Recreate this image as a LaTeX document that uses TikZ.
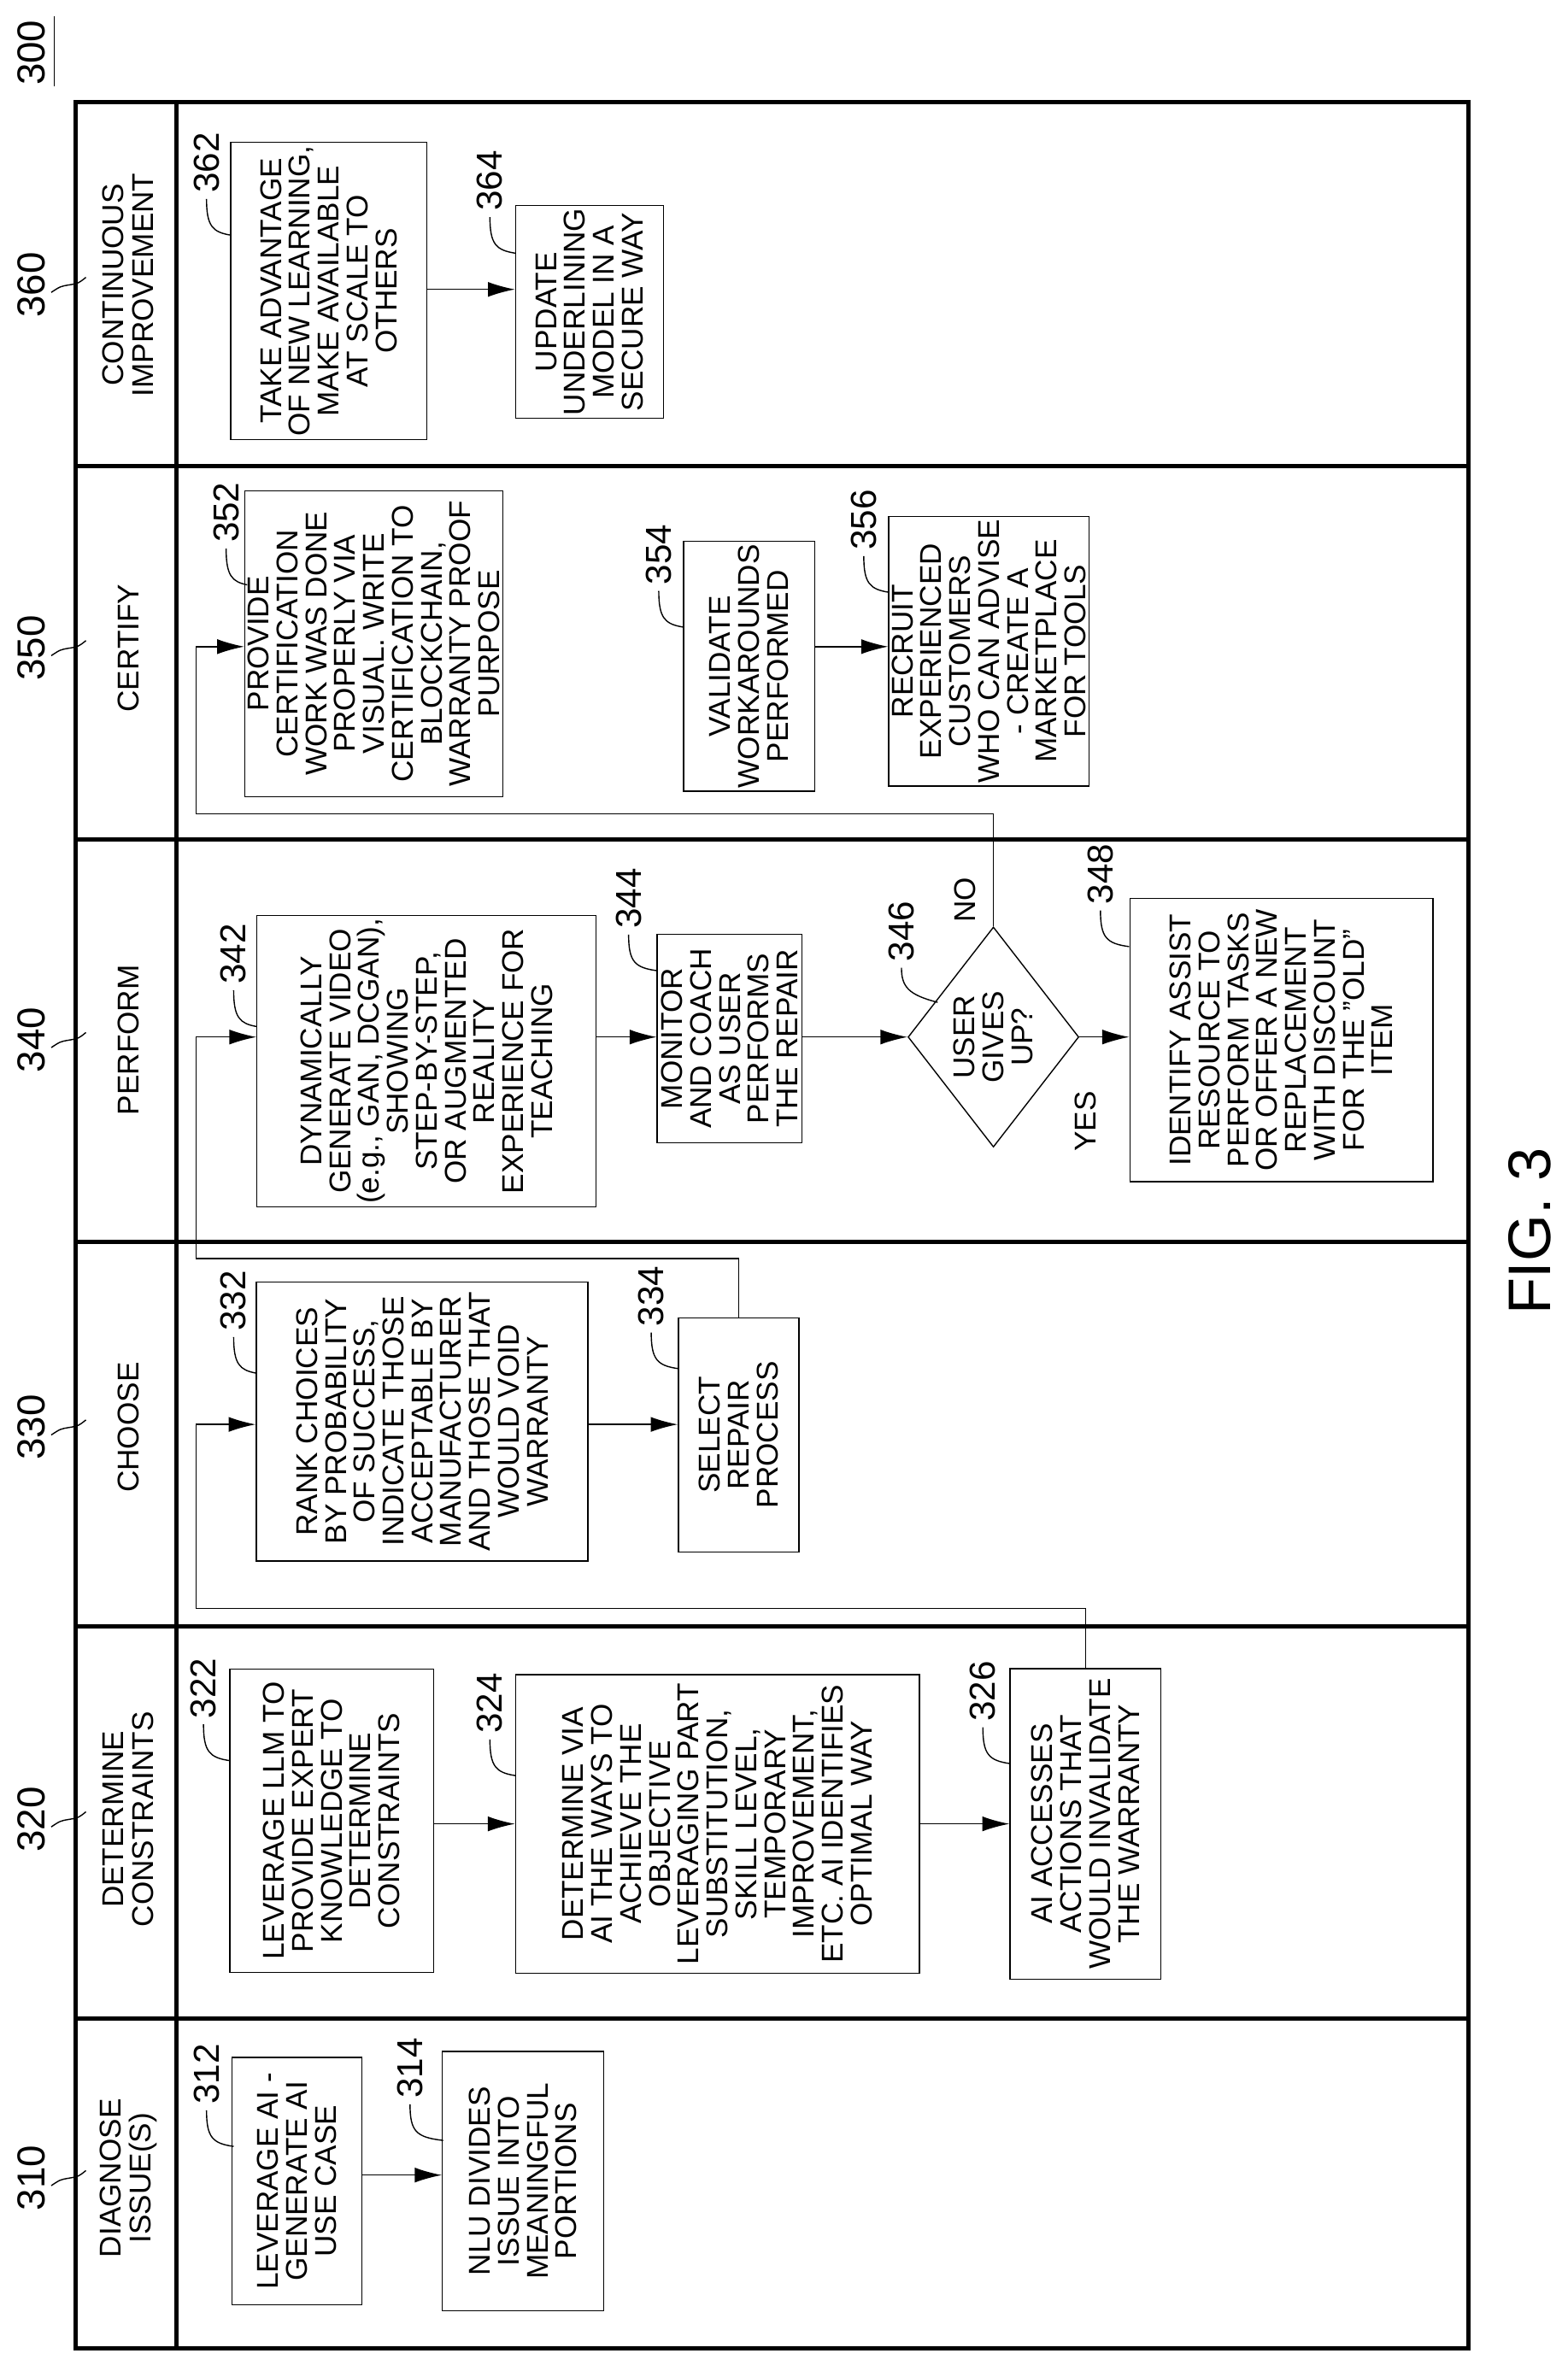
\documentclass[tikz,border=0pt]{standalone}
\usepackage{fontspec}
\setmainfont{Liberation Sans}
\usetikzlibrary{shapes.geometric,arrows.meta}

\def\px{0.1764mm}
\newcommand{\boxfont}{\fontsize{10}{9.6}\selectfont}
\newcommand{\refnum}[4]{%
  \node[numlbl] (n#1) at (#2,#3) {#1};
  \draw[thin] (#2,{#3+24}) .. controls (#2,{#3+42}) and ({#2+4},{#3+46}) .. (#4,{#3+48});}
\newcommand{\lane}[3]{%
  \node[lanehead] (h#1) at (85,#2) {#3};
  \node[lanenum] (l#1) at (21,#2) {#1};
  \draw[thin] (34,{#2+5}) .. controls (40,{#2+1}) .. (46,#2) .. controls (52,{#2-1}) .. (57,{#2-5});}

\begin{document}
\begin{tikzpicture}[x=0.01764cm,y=-0.01764cm,
  box/.style={draw,thin,rotate=90,align=center,inner sep=1pt,font=\boxfont},
  numlbl/.style={rotate=90,font=\fontsize{12}{12}\selectfont},
  lanenum/.style={rotate=90,font=\fontsize{13}{13}\selectfont},
  lanehead/.style={rotate=90,align=center,font=\fontsize{10}{10}\selectfont},
  arr/.style={-{Latex[length=9pt,width=5pt]},thin}]
\useasboundingbox (0,0) rectangle (1040,1573);

% frame and lanes
\begin{scope}[line width=1.4pt]
\draw (50,68) rectangle (974,1558);
\draw (117,68) -- (117,1558);
\foreach \ly in {309,557,824,1079,1339}
  \draw (50,\ly) -- (974,\ly);
\end{scope}

\node[rotate=90,font=\fontsize{13}{13}\selectfont] (fig) at (21,35) {300};
\draw[thin] (36,11) -- (36,57);
\node[rotate=90,font=\fontsize{20}{20}\selectfont] (figlbl) at (1015,817) {FIG. 3};

\lane{360}{189}{CONTINUOUS\\IMPROVEMENT}
\lane{350}{430}{CERTIFY}
\lane{340}{690}{PERFORM}
\lane{330}{947}{CHOOSE}
\lane{320}{1207}{DETERMINE\\CONSTRAINTS}
\lane{310}{1445}{DIAGNOSE\\ISSUE(S)}

% row levels
\coordinate (r360) at (0,192);
\coordinate (r350) at (0,429);
\coordinate (r340) at (0,688);
\coordinate (r330) at (0,945);
\coordinate (r320) at (0,1210);
\coordinate (r310) at (0,1443);

% continuous improvement
\node[box,minimum width=197*\px,minimum height=130*\px] (b362) at (218,193) {TAKE ADVANTAGE\\OF NEW LEARNING,\\MAKE AVAILABLE\\AT SCALE TO\\OTHERS};
\node[box,minimum width=139*\px,minimum height=98*\px] (b364) at (391,207) {UPDATE\\UNDERLINING\\MODEL IN A\\SECURE WAY};
\refnum{362}{137}{108}{153}
\refnum{364}{325}{120}{342}

% certify
\node[box,minimum width=203*\px,minimum height=150*\px] (b352) at (248,427) {PROVIDE\\CERTIFICATION\\WORK WAS DONE\\PROPERLY VIA\\VISUAL. WRITE\\CERTIFICATION TO\\BLOCKCHAIN,\\WARRANTY PROOF\\PURPOSE};
\node[box,minimum width=153*\px,minimum height=87*\px] (b354) at (497,442) {VALIDATE\\WORKAROUNDS\\PERFORMED};
\node[box,minimum width=177*\px,minimum height=132*\px] (b356) at (656,432) {RECRUIT\\EXPERIENCED\\CUSTOMERS\\WHO CAN ADVISE\\- CREATE A\\MARKETPLACE\\FOR TOOLS};
\refnum{352}{150}{340}{164}
\refnum{354}{437}{368}{453}
\refnum{356}{573}{345}{590}

% perform
\node[box,minimum width=167*\px,minimum height=225*\px] (b342) at (283,704) {DYNAMICALLY\\GENERATE VIDEO\\(e.g., GAN, DCGAN),\\SHOWING\\STEP-BY-STEP,\\OR AUGMENTED\\REALITY\\EXPERIENCE FOR\\TEACHING};
\node[box,minimum width=138*\px,minimum height=96*\px] (b344) at (484,689) {MONITOR\\AND COACH\\AS USER\\PERFORMS\\THE REPAIR};
\node[box,diamond,inner sep=0pt,minimum width=146*\px,minimum height=108*\px] (d346) at (659,688) {USER\\GIVES\\UP?};
\node[box,minimum width=188*\px,minimum height=201*\px] (b348) at (850,690) {IDENTIFY ASSIST\\RESOURCE TO\\PERFORM TASKS\\OR OFFER A NEW\\REPLACEMENT\\WITH DISCOUNT\\FOR THE "OLD"\\ITEM};
\refnum{342}{155}{633}{170}
\refnum{344}{417}{596}{436}
\node[numlbl] (n346) at (598,618) {346};
\draw[thin] (598,642) .. controls (598,655) and (603,660) .. (622,665);
\refnum{348}{730}{580}{749}
\node[rotate=90,font=\boxfont] (yes) at (720,744) {YES};
\node[rotate=90,font=\boxfont] (no) at (640,597) {NO};

% choose
\node[box,minimum width=185*\px,minimum height=220*\px] (b332) at (280,943) {RANK CHOICES\\BY PROBABILITY\\OF SUCCESS,\\INDICATE THOSE\\ACCEPTABLE BY\\MANUFACTURER\\AND THOSE THAT\\WOULD VOID\\WARRANTY};
\node[box,minimum width=155*\px,minimum height=80*\px] (b334) at (490,952) {SELECT\\REPAIR\\PROCESS};
\refnum{332}{155}{863}{170}
\refnum{334}{432}{860}{450}

% determine constraints
\node[box,minimum width=201*\px,minimum height=135*\px] (b322) at (220,1208) {LEVERAGE LLM TO\\PROVIDE EXPERT\\KNOWLEDGE TO\\DETERMINE\\CONSTRAINTS};
\node[box,minimum width=198*\px,minimum height=268*\px] (b324) at (476,1210) {DETERMINE VIA\\AI THE WAYS TO\\ACHIEVE THE\\OBJECTIVE\\LEVERAGING PART\\SUBSTITUTION,\\SKILL LEVEL,\\TEMPORARY\\IMPROVEMENT,\\ETC. AI IDENTIFIES\\OPTIMAL WAY};
\node[box,minimum width=206*\px,minimum height=100*\px] (b326) at (720,1210) {AI ACCESSES\\ACTIONS THAT\\WOULD INVALIDATE\\THE WARRANTY};
\refnum{322}{135}{1120}{152}
\refnum{324}{325}{1130}{342}
\refnum{326}{652}{1122}{670}

% diagnose
\node[box,minimum width=164*\px,minimum height=86*\px] (b312) at (197,1447) {LEVERAGE AI -\\GENERATE AI\\USE CASE};
\node[box,minimum width=172*\px,minimum height=107*\px] (b314) at (347,1447) {NLU DIVIDES\\ISSUE INTO\\MEANINGFUL\\PORTIONS};
\refnum{312}{137}{1376}{155}
\refnum{314}{272}{1372}{294}

% connectors
\draw[arr] (b362.south |- r360) -- (b364.north |- r360);
\draw[arr] (b354.south |- r350) -- (b356.north |- r350);
\draw[arr] (b342.south |- r340) -- (b344.north |- r340);
\draw[arr] (b344.south |- r340) -- (d346.north);
\draw[arr] (d346.south) -- (b348.north |- r340);
\draw[arr] (b332.south |- r330) -- (b334.north |- r330);
\draw[arr] (b322.south |- r320) -- (b324.north |- r320);
\draw[arr] (b324.south |- r320) -- (b326.north |- r320);
\draw[arr] (b312.south |- r310) -- (b314.north |- r310);

% loop backs
\coordinate (k1) at (130,540);
\coordinate (k2) at (130,835);
\coordinate (k3) at (130,1067);
\draw[arr] (d346.east) |- (k1) |- (b352.north |- r350);
\draw[arr] (b334.east) |- (k2) |- (b342.north |- r340);
\draw[arr] (b326.east) |- (k3) |- (b332.north |- r330);
\end{tikzpicture}
\end{document}
